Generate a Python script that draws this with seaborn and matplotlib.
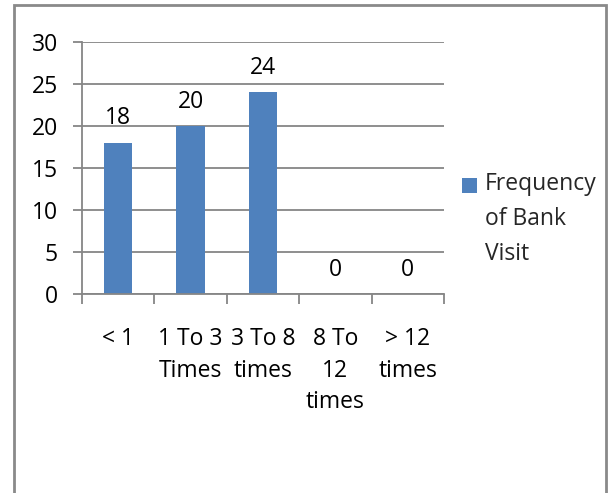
import matplotlib
matplotlib.use("Agg")
import matplotlib.pyplot as plt
import seaborn as sns
from matplotlib.patches import Rectangle

# Survey answers: how often respondents visit their bank
categories = ["< 1", "1 To 3\nTimes", "3 To 8\ntimes", "8 To\n12\ntimes", "> 12\ntimes"]
visits = [18, 20, 24, 0, 0]
series_name = "Frequency\nof Bank\nVisit"
y_ticks = [0, 5, 10, 15, 20, 25, 30]

sns.set_style("white")
plt.rcParams["font.family"] = ["Open Sans", "DejaVu Sans"]

W, H = 611, 493
FS = 16.5
bar_color = "#4F81BD"
line_color = "#868686"

fig = plt.figure(figsize=(W / 100, H / 100), dpi=100)
ax = fig.add_axes([82 / W, 1 - 294 / H, (444 - 82) / W, (294 - 42) / H])

sns.barplot(x=categories, y=visits, color=bar_color, saturation=1,
            width=0.39, linewidth=0, ax=ax)

# value labels above each bar
ax.bar_label(ax.containers[0], labels=[str(v) for v in visits],
             padding=9, fontsize=FS, color="black")

# value axis
ax.set_ylim(y_ticks[0], y_ticks[-1])
ax.set_yticks(y_ticks)
ax.yaxis.grid(True, color=line_color, linewidth=1.3)
ax.set_axisbelow(True)
ax.tick_params(axis="y", direction="out", length=6.5, width=1.3,
               color=line_color, pad=11, labelsize=FS, labelcolor="black",
               left=True)

# category axis: labels centred, tick marks between categories
ax.set_xlim(-0.5, len(categories) - 0.5)
ax.set_xticks(range(len(categories)))
ax.set_xticklabels(categories, linespacing=1.42)
ax.set_xticks([i - 0.5 for i in range(len(categories) + 1)], minor=True)
ax.tick_params(axis="x", which="major", length=0, pad=24,
               labelsize=FS, labelcolor="black")
ax.tick_params(axis="x", which="minor", direction="out", length=7.2,
               width=1.3, color=line_color, bottom=True)
ax.set_xlabel("")
ax.set_ylabel("")

for side in ("top", "right"):
    ax.spines[side].set_visible(False)
for side in ("left", "bottom"):
    ax.spines[side].set_color(line_color)
    ax.spines[side].set_linewidth(1.3)

# legend: colour swatch beside the series name
fig.add_artist(Rectangle((462 / W, 1 - 193 / H), 15 / W, 15 / H,
                         transform=fig.transFigure, facecolor=bar_color,
                         edgecolor="none"))
fig.text(485 / W, 1 - 219 / H, series_name, fontsize=FS, va="center",
         ha="left", linespacing=1.6)

# chart frame
fig.add_artist(Rectangle((14 / W, -0.05), (606 - 14) / W, 1.05 - 5 / H,
                         transform=fig.transFigure, fill=False,
                         edgecolor="#8a8a8a", linewidth=2, clip_on=False))

fig.savefig("out.png", dpi=100)
